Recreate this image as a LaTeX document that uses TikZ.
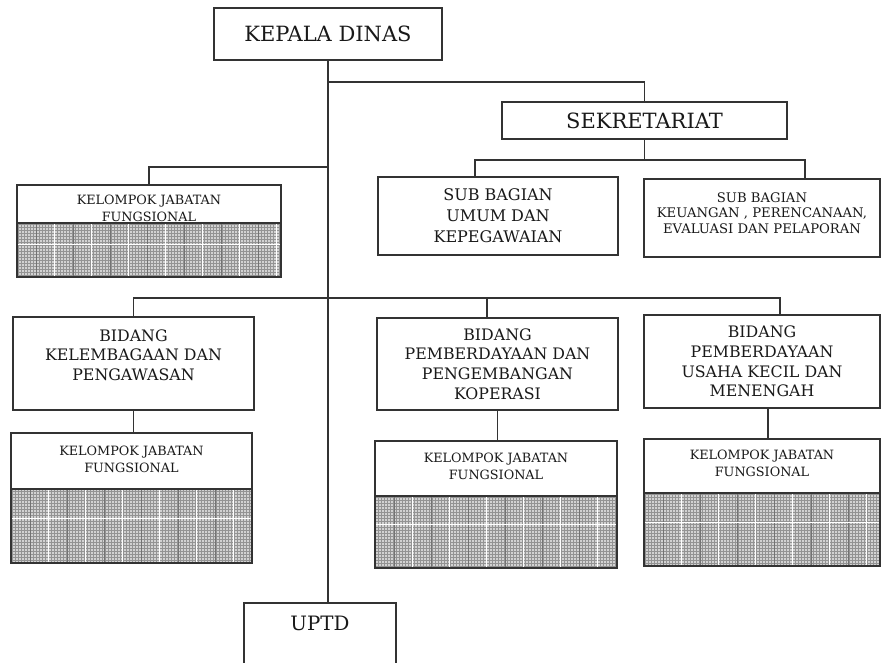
\documentclass[tikz,border=0pt]{standalone}
\usepackage{fontspec}
\setmainfont{DejaVu Serif}
\usetikzlibrary{patterns}
\tikzset{
  ln/.style={line width=1.5pt, draw=black!80},
  box/.style={ln, rectangle, inner sep=0pt, align=center, text=black!90},
  bigf/.style={font=\fontsize{21}{24}\selectfont},
  midf/.style={font=\fontsize{15.8}{19.7}\selectfont},
  subf/.style={font=\fontsize{16}{21}\selectfont},
  smallf/.style={font=\fontsize{12.8}{17}\selectfont},
  tinyf/.style={font=\fontsize{13.2}{15.5}\selectfont},
}
\newcommand\mkhatch[4]{%
  \begin{scope}
    \clip (#1,#2) rectangle (#3,#4);
    \fill[gray!35] (#1,#2) rectangle (#3,#4);
    \fill[pattern=grid, pattern color=gray!85] (#1,#2) rectangle (#3,#4);
    \foreach \k in {1,...,7} {
      \draw[white, line width=0.9pt] ({#1+\k*37},#2) -- ({#1+\k*37},#4);
      \draw[black!55, line width=0.8pt] ({#1+\k*37-18},#2) -- ({#1+\k*37-18},#4);
    }
    \draw[white, line width=0.9pt] (#1,{#2+0.4*(#4-#2)}) -- (#3,{#2+0.4*(#4-#2)});
  \end{scope}
  \draw[ln] (#1,#2) rectangle (#3,#4);
}
\begin{document}
\begin{tikzpicture}[x=1pt,y=-1pt]
\useasboundingbox (0,0) rectangle (882,662);
\clip (0,0) rectangle (882,662);
\fill[white] (0,0) rectangle (882,662);

% hatched lower parts
\mkhatch{17}{223}{281}{277}
\mkhatch{11}{489}{252}{563}
\mkhatch{375}{496}{617}{568}
\mkhatch{644}{493}{880}{566}

% nodes
\node[box, bigf, minimum width=228pt, minimum height=52pt] (kd) at (328,34) {KEPALA DINAS};
\node[box, bigf, minimum width=285pt, minimum height=37pt] (sek) at (644.5,120.5) {SEKRETARIAT};
\node[box, subf, minimum width=240pt, minimum height=78pt] (sub1) at (498,216) {SUB BAGIAN\\UMUM DAN\\KEPEGAWAIAN};
\node[box, minimum width=236pt, minimum height=78pt] (sub2) at (762,218) {};
\node[tinyf, align=center, inner sep=0pt, text=black!90] (sub2t) at (762,213) {SUB BAGIAN\\KEUANGAN , PERENCANAAN,\\EVALUASI DAN PELAPORAN};

\node[box, minimum width=264pt, minimum height=38pt] (kjf0) at (149,204) {};
\node[smallf, align=center, inner sep=0pt, text=black!90] (kjf0t) at (149,208.5) {KELOMPOK JABATAN\\FUNGSIONAL};

\node[box, midf, minimum width=241pt, minimum height=93pt] (b1) at (133.5,363.5) {};
\node[midf, align=center, inner sep=0pt, text=black!90] (b1t) at (133.5,355) {BIDANG\\KELEMBAGAAN DAN\\PENGAWASAN};
\node[box, midf, minimum width=241pt, minimum height=92pt] (b2) at (497.5,364) {BIDANG\\PEMBERDAYAAN DAN\\PENGEMBANGAN\\KOPERASI};
\node[box, midf, minimum width=236pt, minimum height=93pt] (b3) at (762,361.5) {BIDANG\\PEMBERDAYAAN\\USAHA KECIL DAN\\MENENGAH};

\node[box, minimum width=241pt, minimum height=56pt] (kjf1) at (131.5,461) {};
\node[smallf, align=center, inner sep=0pt, text=black!90] (kjf1t) at (131.5,459.5) {KELOMPOK JABATAN\\FUNGSIONAL};
\node[box, minimum width=242pt, minimum height=55pt] (kjf2) at (496,468.5) {};
\node[smallf, align=center, inner sep=0pt, text=black!90] (kjf2t) at (496,466.5) {KELOMPOK JABATAN\\FUNGSIONAL};
\node[box, minimum width=236pt, minimum height=54pt] (kjf3) at (762,466) {};
\node[smallf, align=center, inner sep=0pt, text=black!90] (kjf3t) at (762,463.5) {KELOMPOK JABATAN\\FUNGSIONAL};

\node[font=\fontsize{19.8}{22}\selectfont, inner sep=0pt, minimum width=152pt, minimum height=40pt, text=black!90] (uptd) at (320,623) {UPTD};
\draw[ln] ([yshift=-40pt]uptd.south west) -- (uptd.north west) -- (uptd.north east) -- ([yshift=-40pt]uptd.south east);

% connectors
\coordinate (j1) at (328,82);
\coordinate (j3) at (328,167);
\coordinate (s1) at (475,160);
\coordinate (s2) at (805,160);
\coordinate (bh1) at (133.5,298);
\coordinate (bh2) at (487,298);
\coordinate (bh3) at (780,298);

\draw[ln] (kd.south) -- (kd.south |- uptd.north);
\draw[ln] (j1) -| (sek.north);
\draw[ln] (sek.south) -- (sek.south |- s1);
\draw[ln] (s1 |- sub1.north) -- (s1) -- (s2) -- (s2 |- sub2.north);
\draw[ln] (j3) -| (kjf0.north);
\draw[ln] (b1.north) -- (bh1) -- (bh3) -- (bh3 |- b3.north);
\draw[ln] (bh2) -- (bh2 |- b2.north);
\draw[ln] (b1.south) -- (b1.south |- kjf1.north);
\draw[ln] (b2.south) -- (b2.south |- kjf2.north);
\draw[ln] ([xshift=6pt]b3.south) -- ([xshift=6pt]b3.south |- kjf3.north);
\end{tikzpicture}
\end{document}
